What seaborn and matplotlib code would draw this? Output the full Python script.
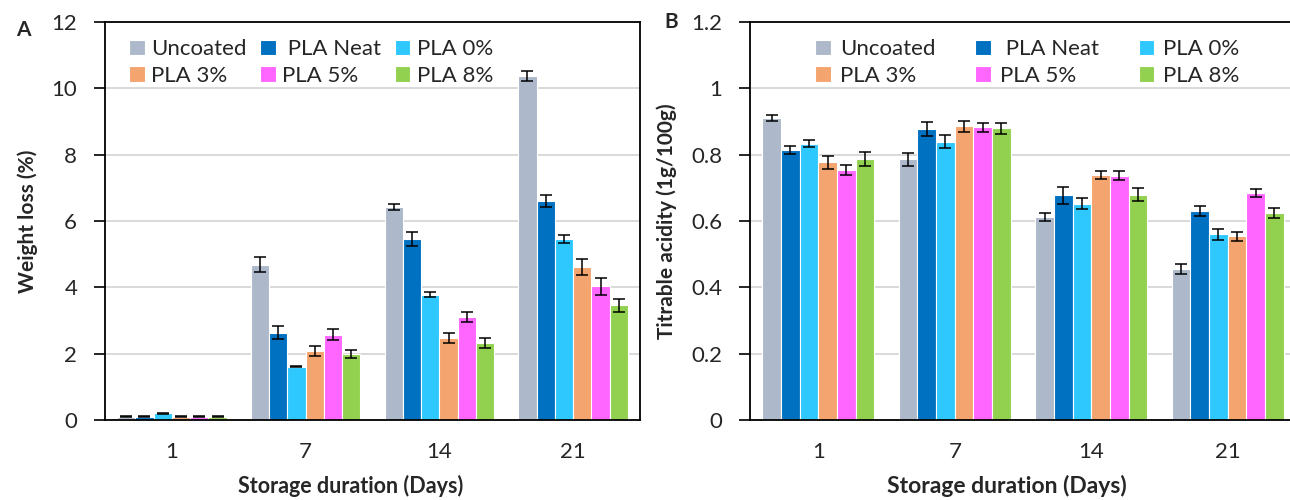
import numpy as np
import pandas as pd
import matplotlib
matplotlib.use("Agg")
import matplotlib.pyplot as plt
import seaborn as sns

days = ["1", "7", "14", "21"]
treatments = ["Uncoated", " PLA Neat", "PLA 0%", "PLA 3%", "PLA 5%", "PLA 8%"]
colors = ["#ADB9CA", "#0070C0", "#2EC8FF", "#F4A46E", "#FF66FF", "#92D050"]

# Weight loss (%) per treatment, values for days 1, 7, 14, 21
wl_uncoated = [0.10, 4.68, 6.43, 10.37]
wl_neat     = [0.10, 2.63, 5.46, 6.60]
wl_pla0     = [0.20, 1.61, 3.78, 5.45]
wl_pla3     = [0.10, 2.08, 2.47, 4.61]
wl_pla5     = [0.10, 2.57, 3.10, 4.03]
wl_pla8     = [0.10, 1.99, 2.32, 3.46]
wl_err_uncoated = [0.01, 0.22, 0.09, 0.14]
wl_err_neat     = [0.01, 0.19, 0.20, 0.19]
wl_err_pla0     = [0.01, 0.02, 0.08, 0.12]
wl_err_pla3     = [0.01, 0.16, 0.15, 0.25]
wl_err_pla5     = [0.01, 0.16, 0.16, 0.25]
wl_err_pla8     = [0.01, 0.13, 0.14, 0.20]

# Titrable acidity (1g/100g)
ta_uncoated = [0.911, 0.786, 0.612, 0.455]
ta_neat     = [0.813, 0.877, 0.677, 0.630]
ta_pla0     = [0.833, 0.839, 0.652, 0.560]
ta_pla3     = [0.777, 0.885, 0.739, 0.554]
ta_pla5     = [0.754, 0.882, 0.737, 0.683]
ta_pla8     = [0.787, 0.879, 0.679, 0.624]
ta_err_uncoated = [0.010, 0.020, 0.013, 0.014]
ta_err_neat     = [0.012, 0.020, 0.025, 0.014]
ta_err_pla0     = [0.010, 0.020, 0.016, 0.016]
ta_err_pla3     = [0.020, 0.016, 0.011, 0.013]
ta_err_pla5     = [0.015, 0.013, 0.013, 0.012]
ta_err_pla8     = [0.020, 0.016, 0.020, 0.015]

wl_vals = [wl_uncoated, wl_neat, wl_pla0, wl_pla3, wl_pla5, wl_pla8]
wl_errs = [wl_err_uncoated, wl_err_neat, wl_err_pla0, wl_err_pla3, wl_err_pla5, wl_err_pla8]
ta_vals = [ta_uncoated, ta_neat, ta_pla0, ta_pla3, ta_pla5, ta_pla8]
ta_errs = [ta_err_uncoated, ta_err_neat, ta_err_pla0, ta_err_pla3, ta_err_pla5, ta_err_pla8]

sns.set_theme(style="white")
plt.rcParams['font.family'] = ['Lato', 'DejaVu Sans']

def long_df(vals):
    rows = []
    for t, v in zip(treatments, vals):
        for d, x in zip(days, v):
            rows.append({"day": d, "treatment": t, "value": x})
    return pd.DataFrame(rows)

fig = plt.figure(figsize=(12.9, 5.0), dpi=100)
axA = fig.add_axes([105/1290, 80/500, 535/1290, 398/500])
axB = fig.add_axes([750/1290, 80/500, 546/1290, 398/500])

def draw(ax, vals, errs, ymax, ystep, ylabel, yfmt, xlab_size):
    df = long_df(vals)
    sns.barplot(data=df, x="day", y="value", hue="treatment", order=days,
                hue_order=treatments, palette=colors, errorbar=None,
                width=0.82, edgecolor="white", linewidth=0.8, saturation=1,
                ax=ax)
    for cont, e in zip(ax.containers, errs):
        xs = [b.get_x() + b.get_width()/2 for b in cont]
        hs = [b.get_height() for b in cont]
        ax.errorbar(xs, hs, yerr=e, fmt="none", ecolor="black",
                    elinewidth=1.1, capsize=4.5, capthick=1.1, zorder=5)
    ax.set_xlim(-0.5, 3.5)
    ax.set_ylim(0, ymax)
    yt = np.arange(0, ymax + ystep/2, ystep)
    ax.set_yticks(yt)
    ax.set_yticklabels([yfmt(v) for v in yt], fontsize=16)
    ax.yaxis.grid(True, color="#D0D0D0", linewidth=1.1)
    ax.set_axisbelow(True)
    ax.set_xticks(range(4))
    ax.set_xticklabels(days, fontsize=16)
    ax.set_xticks([-0.5, 0.5, 1.5, 2.5, 3.5], minor=True)
    ax.tick_params(axis="x", which="major", length=0, pad=16)
    ax.tick_params(axis="x", which="minor", length=8, width=1.2, color="black", direction="out")
    ax.tick_params(axis="y", which="major", length=8, width=1.2, color="black", direction="out", pad=12, left=True)
    for s in ax.spines.values():
        s.set_color("black")
        s.set_linewidth(1.3)
    ax.set_xlabel("Storage duration (Days)", fontsize=xlab_size, fontweight="bold")
    ax.set_ylabel(ylabel, fontsize=15, fontweight="bold", labelpad=10)
    h, l = ax.get_legend_handles_labels()
    order = [0, 3, 1, 4, 2, 5]
    return [h[i] for i in order], [l[i] for i in order]

def fmtA(v):
    return f"{int(round(v))}"

def fmtB(v):
    s = f"{v:.1f}"
    return "0" if v == 0 else ("1" if abs(v-1) < 1e-9 else s)

hA, lA = draw(axA, wl_vals, wl_errs, 12, 2, "Weight loss (%)", fmtA, 15.5)
hB, lB = draw(axB, ta_vals, ta_errs, 1.2, 0.2, "Titrable acidity (1g/100g)", fmtB, 16.5)
axA.xaxis.set_label_coords(0.46, -0.138)
axB.xaxis.set_label_coords(0.47, -0.138)

axA.legend(hA, lA, ncol=3, loc="upper left", bbox_to_anchor=(0.02, 0.99),
           frameon=False, fontsize=16, handlelength=0.7, handleheight=0.7,
           handletextpad=0.3, columnspacing=0.6, labelspacing=0.3, borderaxespad=0.2)
axB.legend(hB, lB, ncol=3, loc="upper left", bbox_to_anchor=(0.095, 0.99),
           frameon=False, fontsize=16, handlelength=0.7, handleheight=0.7,
           handletextpad=0.4, columnspacing=1.8, labelspacing=0.3, borderaxespad=0.2)

fig.text(16/1290, 1 - 30/500, "A", fontsize=15, fontweight="bold", va="center", ha="left")
fig.text(664/1290, 1 - 22/500, "B", fontsize=15, fontweight="bold", va="center", ha="left")

fig.savefig("out.png", dpi=100)
